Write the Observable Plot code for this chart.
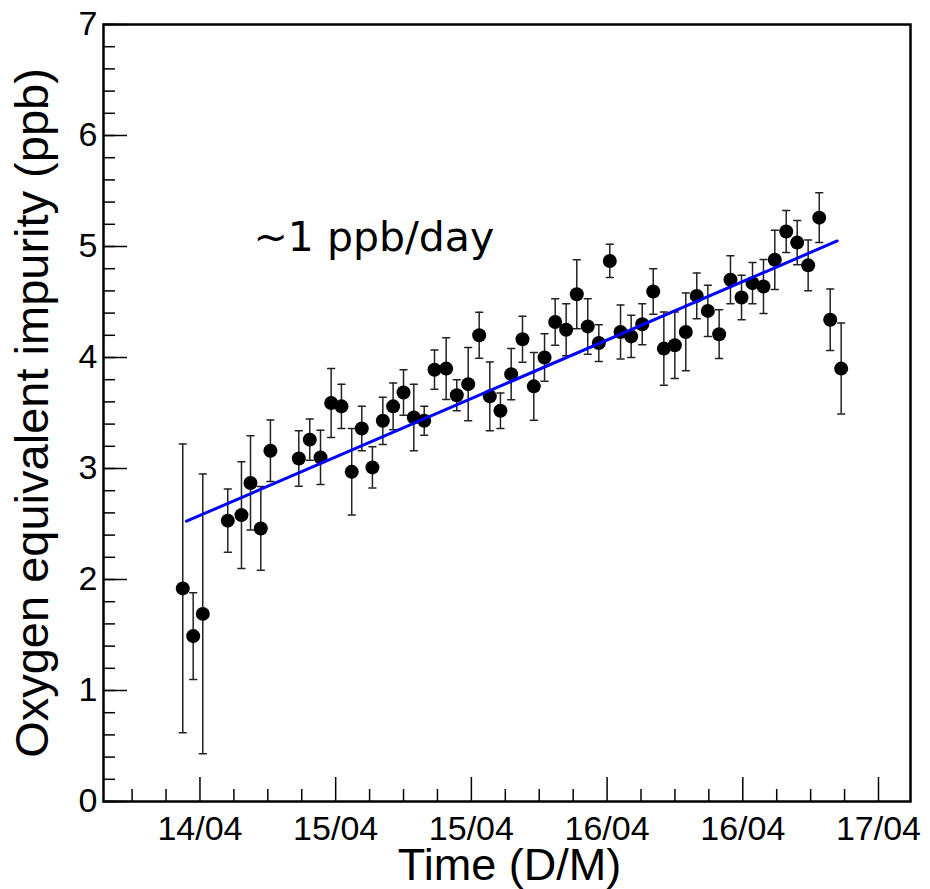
<!DOCTYPE html>
<html><head><meta charset="utf-8">
<script src="https://cdn.jsdelivr.net/npm/d3@7"></script>
<script src="https://cdn.jsdelivr.net/npm/@observablehq/plot@0.6"></script>
<style>body{margin:0;background:#fff}</style>
</head><body><div id="chart"></div>
<script>
// Hours since 14/04 00:00 (UTC)
const hours = [10.48, 11.40, 12.25, 14.46, 15.67, 16.47, 17.38, 18.23, 20.74, 21.71,
  22.66, 23.60, 24.51, 25.42, 26.31, 27.25, 28.17, 29.08, 30.00, 30.91,
  31.83, 32.74, 33.77, 34.71, 35.72, 36.69, 37.63, 38.57, 39.52, 40.52,
  41.52, 42.47, 43.41, 44.38, 45.32, 46.29, 47.27, 48.24, 49.19, 50.13,
  51.11, 52.08, 53.02, 53.99, 54.96, 55.93, 56.91, 57.91, 58.91, 59.89,
  60.86, 61.83, 62.83, 63.84, 64.81, 65.78, 66.76, 67.73, 68.70];
const values = [1.92, 1.49, 1.69, 2.53, 2.58, 2.87, 2.46, 3.16, 3.09, 3.26,
  3.10, 3.59, 3.56, 2.97, 3.36, 3.01, 3.43, 3.56, 3.685, 3.46,
  3.43, 3.89, 3.90, 3.66, 3.76, 4.20, 3.65, 3.52, 3.85, 4.165,
  3.74, 4.00, 4.32, 4.25, 4.57, 4.28, 4.13, 4.87, 4.23, 4.19,
  4.30, 4.595, 4.08, 4.11, 4.23, 4.555, 4.42, 4.21, 4.70, 4.54,
  4.67, 4.64, 4.88, 5.135, 5.035, 4.83, 5.26, 4.34, 3.90];
const errors = [1.30, 0.39, 1.26, 0.285, 0.48, 0.425, 0.377, 0.278, 0.25, 0.185,
  0.245, 0.31, 0.20, 0.39, 0.20, 0.185, 0.213, 0.21, 0.205, 0.30,
  0.13, 0.177, 0.278, 0.14, 0.33, 0.207, 0.31, 0.16, 0.23, 0.207,
  0.305, 0.213, 0.21, 0.235, 0.31, 0.25, 0.165, 0.15, 0.243, 0.19,
  0.185, 0.205, 0.33, 0.30, 0.35, 0.207, 0.23, 0.22, 0.216, 0.20,
  0.186, 0.243, 0.267, 0.19, 0.20, 0.228, 0.224, 0.277, 0.41];
const fitHours = [10.81, 68.35];
const fitValues = [2.525, 5.05];
const xDomainHours = [3.47, 74.83];
const xMajorHours = [12, 24, 36, 48, 60, 72];
const xMinorHours = [6, 9, 15, 18, 21, 27, 30, 33, 39, 42, 45, 51, 54, 57, 63, 66, 69];
const yMajor = [0, 1, 2, 3, 4, 5, 6, 7];
const yMinor = d3.range(0, 7.001, 0.2).map(v => +v.toFixed(1));
const annotationText = "~1 ppb/day";
const annotationHour = 16.73;
const annotationValue = 4.96;
const xTitle = "Time (D/M)";
const yTitle = "Oxygen equivalent impurity (ppb)";

const base = Date.UTC(2015, 3, 14);
const toDate = h => new Date(base + h * 3600000);
const pts = hours.map((h, i) => ({t: toDate(h), v: values[i], e: errors[i]}));
const fit = fitHours.map((h, i) => ({t: toDate(h), v: fitValues[i]}));
const capShape = {draw(ctx, l) { ctx.moveTo(-l / 2, 0); ctx.lineTo(l / 2, 0); }};

const chart = Plot.plot({
  width: 930, height: 889,
  marginLeft: 103, marginRight: 20, marginTop: 24, marginBottom: 88,
  style: {fontFamily: "'Liberation Sans', Arial, sans-serif", background: "#fff", color: "#000"},
  x: {type: "utc", domain: xDomainHours.map(toDate)},
  y: {domain: [0, 7]},
  marks: [
    Plot.axisX(xMajorHours.map(toDate), {tickSize: -24, strokeWidth: 1.5, fill: "none", label: null}),
    Plot.axisX(xMinorHours.map(toDate), {tickSize: -12, strokeWidth: 1.5, fill: "none", label: null}),
    Plot.axisX(xMajorHours.map(toDate), {tickSize: 0, tickPadding: 14, fontSize: 34, tickFormat: d3.utcFormat("%d/%m"), label: null}),
    Plot.axisY(yMajor, {tickSize: -24, strokeWidth: 1.5, fill: "none", label: null}),
    Plot.axisY(yMinor, {tickSize: -12, strokeWidth: 1.5, fill: "none", label: null}),
    Plot.axisY(yMajor, {tickSize: 0, tickPadding: 6, fontSize: 34, tickFormat: d3.format("d"), label: null}),
    Plot.ruleX(pts, {x: "t", y1: d => d.v - d.e, y2: d => d.v + d.e, stroke: "#222", strokeWidth: 1.5}),
    Plot.vector(pts, {x: "t", y: d => d.v + d.e, length: 7, shape: capShape, anchor: "start", stroke: "#222", fill: "none", strokeWidth: 1.5}),
    Plot.vector(pts, {x: "t", y: d => d.v - d.e, length: 7, shape: capShape, anchor: "start", stroke: "#222", fill: "none", strokeWidth: 1.5}),
    Plot.dot(pts, {x: "t", y: "v", r: 7, fill: "#000", stroke: null}),
    Plot.line(fit, {x: "t", y: "v", stroke: "#0000ff", strokeWidth: 3}),
    Plot.text([annotationText], {x: () => toDate(annotationHour), y: () => annotationValue, text: d => d, textAnchor: "start", lineAnchor: "bottom", fontSize: 41, fontFamily: "'DejaVu Sans', sans-serif"}),
    Plot.text([xTitle], {text: d => d, frameAnchor: "bottom", textAnchor: "middle", lineAnchor: "bottom", dy: 78, dx: 2.5, fontSize: 45}),
    Plot.text([yTitle], {text: d => d, frameAnchor: "left", textAnchor: "middle", rotate: -90, lineAnchor: "bottom", dx: -56, fontSize: 47}),
    Plot.frame({stroke: "#000", strokeWidth: 2.5})
  ]
});
document.getElementById("chart").appendChild(chart);
</script>
</body></html>
